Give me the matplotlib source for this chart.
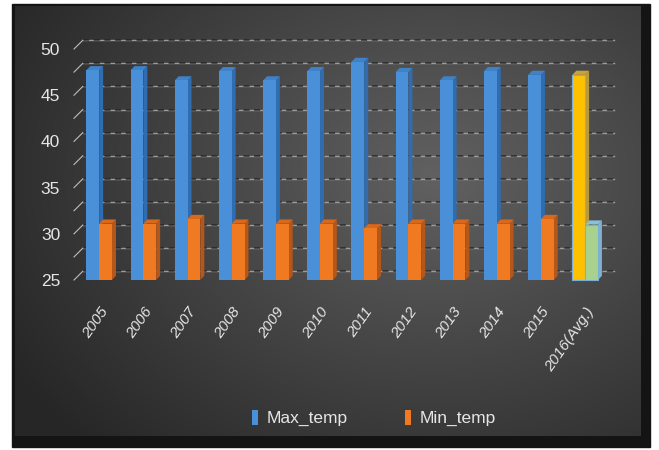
import numpy as np
import matplotlib
matplotlib.use("Agg")
import matplotlib.pyplot as plt
from matplotlib.patches import Polygon, Rectangle, Patch

plt.rcParams['font.family'] = ['Liberation Sans Narrow', 'Liberation Sans', 'DejaVu Sans']

years = ['2005', '2006', '2007', '2008', '2009', '2010', '2011', '2012',
         '2013', '2014', '2015', '2016(Avg.)']
max_temp = [47.7, 47.7, 46.6, 47.6, 46.6, 47.6, 48.6, 47.5, 46.6, 47.6, 47.2, 47.2]
min_temp = [31.1, 31.1, 31.6, 31.1, 31.1, 31.1, 30.6, 31.1, 31.1, 31.1, 31.6, 31.0]
yticks = [25, 30, 35, 40, 45, 50]
grid_levels = np.arange(25, 50.1, 2.5)

W, H = 659, 450
fig = plt.figure(figsize=(W / 100, H / 100), dpi=100, facecolor="white")

# ─── dark panel background ──────────────────────────────────────────
bg = fig.add_axes([0, 0, 1, 1], zorder=-10)
bg.axis("off")
bg.add_patch(Rectangle((12, 4), 638, 443, color="#141414", zorder=1))
yy, xx = np.mgrid[0:430, 0:626]
r = np.hypot((xx - 420) / 430, (yy - 170) / 330)
shade = np.clip(0.38 - 0.2 * r, 0.15, 0.4)
img = np.dstack([shade, shade, shade])
bg.imshow(img, extent=(15, 641, 436, 6), aspect="auto", interpolation="bilinear",
          zorder=2)
bg.set_xlim(0, W); bg.set_ylim(H, 0)

# ─── main axes (front plane) ───────────────────────────────────────
x_left, x_right, y_bot, y_top = 74, 605, 280, 49
ax = fig.add_axes([x_left / W, (H - y_bot) / H, (x_right - x_left) / W, (y_bot - y_top) / H])
ax.set_facecolor("none")
xlim = (-0.57, 11.45)
ax.set_xlim(*xlim); ax.set_ylim(25, 50)
for s in ax.spines.values():
    s.set_visible(False)

ddx, ddy = 0.2, 0.95   # back wall offset
for g in grid_levels:
    ax.plot([xlim[0] + ddx, xlim[1] + ddx], [g + ddy, g + ddy], color="#9c9c9c",
            lw=1.0, clip_on=False, zorder=1)
    ax.plot([xlim[0] + ddx, xlim[1] + ddx], [g + ddy, g + ddy], color="#111111",
            lw=1.1, ls=(0, (4, 3)), alpha=0.75, clip_on=False, zorder=1)
    ax.plot([xlim[0], xlim[0] + ddx], [g, g + ddy], color="#bdbdbd", lw=0.8,
            clip_on=False, zorder=1)

# ─── 3D-ish bars ───────────────────────────────────────────────────
bw, bdx, bdy = 0.29, 0.09, 0.45
max_cols = ["#4a90d9"] * 11 + ["#ffc000"]
min_cols = ["#f07a22"] * 11 + ["#a9d18e"]
max_side = ["#2f6db0"] * 11 + ["#b89a3c"]
min_side = ["#b5561a"] * 11 + ["#7fb3d0"]
max_top = ["#3f82c8"] * 11 + ["#c9a23a"]
min_top = ["#d8681c"] * 11 + ["#8cc0da"]

def bar3d(x0, v, front, side, top, edge):
    ax.add_patch(Polygon([(x0 + bw, 25), (x0 + bw + bdx, 25 + bdy),
                          (x0 + bw + bdx, v + bdy), (x0 + bw, v)],
                         closed=True, fc=side, ec="none", zorder=3, clip_on=False))
    ax.add_patch(Polygon([(x0, v), (x0 + bdx, v + bdy), (x0 + bw + bdx, v + bdy),
                          (x0 + bw, v)], closed=True, fc=top, ec="none", zorder=3,
                         clip_on=False))
    ax.bar(x0, v - 25, bottom=25, width=bw, align="edge", color=front,
           edgecolor=edge, linewidth=0.8, zorder=4, clip_on=False)

for i in range(len(years)):
    edge = "#7ab0d8" if i == len(years) - 1 else "none"
    bar3d(i - bw, max_temp[i], max_cols[i], max_side[i], max_top[i], edge)
    bar3d(i, min_temp[i], min_cols[i], min_side[i], min_top[i], edge)

ax.set_yticks(yticks)
ax.set_yticklabels([str(t) for t in yticks], color="#e6e6e6", fontsize=12.5)
ax.tick_params(axis="y", length=0, pad=10)
ax.set_xticks(range(len(years)))
ax.set_xticklabels(years, rotation=55, ha="right", va="top",
                   rotation_mode="anchor", color="#e6e6e6", fontsize=11,
                   fontstyle="italic")
ax.tick_params(axis="x", length=0, pad=18)

handles = [Patch(facecolor="#4a90d9", label="Max_temp"),
           Patch(facecolor="#f07a22", label="Min_temp")]
fig.legend(handles=handles, loc="center", bbox_to_anchor=(374 / W, (H - 418) / H),
           ncol=2, frameon=False, fontsize=12.5, labelcolor="#e6e6e6",
           handlelength=0.35, handleheight=1.0, handletextpad=0.5,
           columnspacing=3.3)

fig.savefig("out.png", dpi=100, facecolor="white")
